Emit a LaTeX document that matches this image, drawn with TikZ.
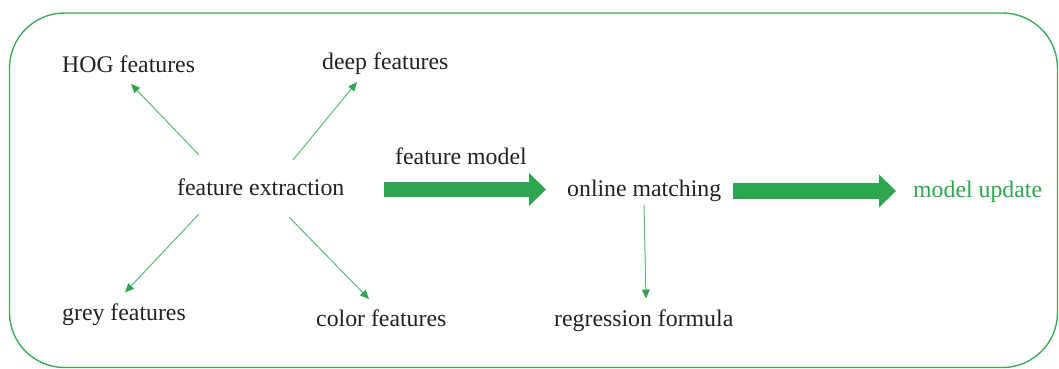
\documentclass[tikz,border=0pt]{standalone}
\usepackage{fontspec}
\setmainfont{Liberation Serif}
\newfontfamily\lblfont{Liberation Serif}
\usetikzlibrary{arrows.meta}
\definecolor{framegreen}{RGB}{60,172,90}
\definecolor{biggreen}{RGB}{46,165,80}
\definecolor{thingreen}{RGB}{88,188,118}
\definecolor{inkgrey}{RGB}{34,34,34}
\tikzset{
  lbl/.style={inner sep=0pt, anchor=base west, text=inkgrey,
    font=\lblfont\fontsize{23.8}{28}\selectfont},
  greenlbl/.style={lbl, text=biggreen},
  thinarrow/.style={draw=thingreen, line width=1pt,
    -{Triangle[length=9pt,width=8pt,line width=0pt,fill=biggreen]}},
  bigarrow/.style={draw=biggreen, line width=15.5pt,
    -{Triangle[length=17pt,width=33pt,line width=0pt]}},
  frame/.style={draw=framegreen, line width=1.4pt, rounded corners=55pt}
}
\begin{document}
\begin{tikzpicture}[x=1pt,y=-1pt]
  \useasboundingbox (0,0) rectangle (1059,369);
  % outer rounded frame
  \draw[frame] (9.5,13) rectangle (1057.5,367.5);

  % labels
  \node[lbl] (fe)  at (177,195) {feature extraction};
  \node[lbl] (hog) at (62,72)   {HOG features};
  \node[lbl] (dp)  at (322,70)  {deep features};
  \node[lbl] (gr)  at (62,320.5) {grey features};
  \node[lbl] (co)  at (316,326) {color features};
  \node[lbl] (fm)  at (395,164) {feature model};
  \node[lbl] (om)  at (567,196) {online matching};
  \node[lbl] (rf)  at (554,326.5) {regression formula};
  \node[greenlbl] (mu) at (913,197) {model update};

  % feature branches
  \draw[thinarrow] ([shift={(22,-40)}]fe.base west) -- ([shift={(69,12)}]hog.base west);
  \draw[thinarrow] ([shift={(116,-35)}]fe.base west) -- ([shift={(35,12)}]dp.base west);
  \draw[thinarrow] ([shift={(22,19)}]fe.base west) -- ([shift={(63,-28)}]gr.base west);
  \draw[thinarrow] ([shift={(112,22)}]fe.base west) -- ([shift={(53,-27)}]co.base west);
  \draw[thinarrow] ([shift={(77,9)}]om.base west) -- ([shift={(92,-28)}]rf.base west);

  % main flow
  \draw[bigarrow] ([shift={(207,-5.5)}]fe.base west) -- ([shift={(-21,-6.5)}]om.base west);
  \draw[bigarrow] ([shift={(166,-5)}]om.base west) -- ([shift={(-17,-6)}]mu.base west);
\end{tikzpicture}
\end{document}
